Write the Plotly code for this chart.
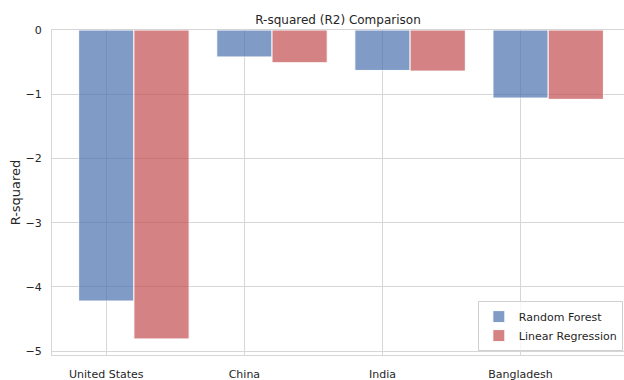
import plotly.graph_objects as go

countries = ["United States", "China", "India", "Bangladesh"]
rf_r2 = [-4.22, -0.42, -0.63, -1.06]
lr_r2 = [-4.81, -0.51, -0.64, -1.08]

bar_width = 0.4
pos = list(range(len(countries)))

fig = go.Figure()
fig.add_trace(go.Bar(
    x=pos, y=rf_r2, width=bar_width, name="Random Forest",
    marker=dict(color="#4c72b0", line=dict(color="white", width=1)),
    opacity=0.7,
))
fig.add_trace(go.Bar(
    x=[p + bar_width for p in pos], y=lr_r2, width=bar_width, name="Linear Regression",
    marker=dict(color="#c44e52", line=dict(color="white", width=1)),
    opacity=0.7,
))

text_color = "#262626"
grid = "#d6d6d6"

fig.update_layout(
    width=624, height=380,
    margin=dict(l=52, r=0, t=30, b=25),
    paper_bgcolor="white", plot_bgcolor="white",
    barmode="overlay",
    font=dict(family="DejaVu Sans", size=11, color=text_color),
    title=dict(text="R-squared (R2) Comparison", x=0.5, xref="paper", xanchor="center",
               y=1, yref="paper", yanchor="bottom", pad=dict(b=6),
               font=dict(size=12, color=text_color)),
    xaxis=dict(
        range=[-0.393, 3.749],
        tickmode="array", tickvals=pos, ticktext=countries,
        showgrid=True, gridcolor=grid, gridwidth=1,
        showline=True, linecolor=grid, linewidth=1, mirror=True,
        ticks="", ticklen=0, zeroline=False, ticklabelstandoff=9,
        tickfont=dict(size=11, color=text_color),
    ),
    yaxis=dict(
        range=[-5.06, 0],
        tickmode="array", tickvals=[0, -1, -2, -3, -4, -5],
        showgrid=True, gridcolor=grid, gridwidth=1,
        showline=True, linecolor=grid, linewidth=1,
        ticks="", ticklen=0, zeroline=False, ticklabelstandoff=7,
        title=dict(text="R-squared", font=dict(size=13, color=text_color), standoff=2),
        tickfont=dict(size=11, color=text_color),
    ),
    legend=dict(
        x=0.998, y=0.012, xanchor="right", yanchor="bottom",
        bgcolor="rgba(255,255,255,0.8)", bordercolor="#d0d0d0", borderwidth=1,
        font=dict(size=11, color=text_color),
        itemwidth=30, tracegroupgap=0,
    ),
    showlegend=True,
)

fig.write_html("out.html")
